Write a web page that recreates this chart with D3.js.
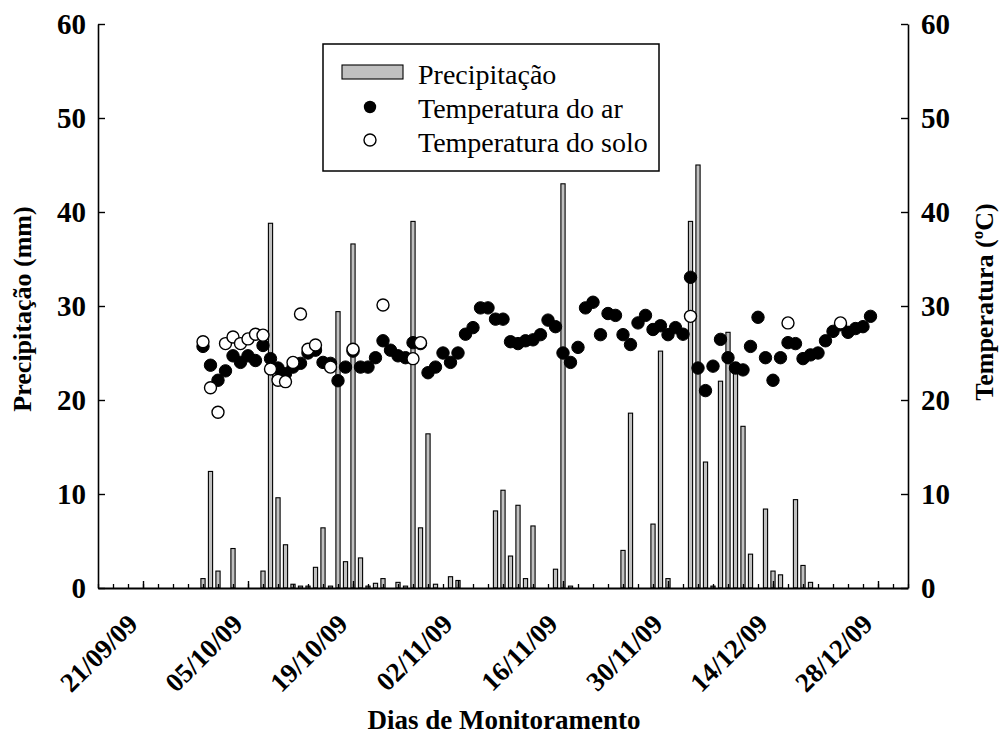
<!DOCTYPE html>
<html><head><meta charset="utf-8">
<script src="https://cdn.jsdelivr.net/npm/d3@7"></script>
<style>
body{margin:0;background:#fff}
svg text{font-family:"Liberation Serif","Times New Roman",serif}
</style>
</head><body>
<svg id="c" width="1002" height="745"></svg>
<script>
// ---------- data ----------
const xDomain = ["15/09/09", "01/01/10"];
const xTickLabels = ["21/09/09","05/10/09","19/10/09","02/11/09","16/11/09","30/11/09","14/12/09","28/12/09"];
const yTicks = [0, 10, 20, 30, 40, 50, 60];

const precipDates = ["29/09/09","30/09/09","01/10/09","03/10/09","07/10/09","08/10/09","09/10/09","10/10/09","11/10/09","12/10/09",
  "13/10/09","14/10/09","15/10/09","16/10/09","17/10/09","18/10/09","19/10/09","20/10/09","21/10/09","22/10/09",
  "23/10/09","25/10/09","26/10/09","27/10/09","28/10/09","29/10/09","30/10/09","01/11/09","02/11/09","07/11/09",
  "08/11/09","09/11/09","10/11/09","11/11/09","12/11/09","15/11/09","16/11/09","17/11/09","24/11/09","25/11/09",
  "28/11/09","29/11/09","30/11/09","03/12/09","04/12/09","05/12/09","06/12/09","07/12/09","08/12/09","09/12/09",
  "10/12/09","11/12/09","13/12/09","14/12/09","15/12/09","17/12/09","18/12/09","19/12/09"];
const precipValues = [1.0,12.4,1.8,4.2,1.8,38.8,9.6,4.6,0.4,0.2,
  0.2,2.2,6.4,0.2,29.4,2.8,36.6,3.2,0.2,0.5,
  1.0,0.6,0.2,39.0,6.4,16.4,0.4,1.2,0.8,8.2,
  10.4,3.4,8.8,1.0,6.6,2.0,43.0,0.2,4.0,18.6,
  6.8,25.2,1.0,39.0,45.0,13.4,0.2,22.0,27.2,24.0,
  17.2,3.6,8.4,1.8,1.4,9.4,2.4,0.6];

// air temperature, one value per day starting at tempStartDate
const tempStartDate = "29/09/09";
const airTemp = [25.7,23.7,22.1,23.1,24.7,24.0,24.7,24.2,25.8,24.4,
  23.4,22.8,23.5,23.9,25.0,25.3,24.0,23.9,22.05,23.5,
  25.2,23.5,23.5,24.5,26.3,25.3,24.7,24.5,26.1,26.0,
  22.9,23.5,25.0,24.0,25.0,27.0,27.7,29.8,29.8,28.6,
  28.6,26.2,26.0,26.3,26.4,26.95,28.5,27.8,25.0,24.0,
  25.6,29.8,30.4,26.95,29.2,29.0,26.95,25.9,28.2,29.0,
  27.5,27.9,26.95,27.7,27.0,33.05,23.4,21.0,23.6,26.45,
  24.5,23.4,23.2,25.7,28.8,24.5,22.1,24.5,26.1,26.0,
  24.4,24.8,25.0,26.3,27.3,28.0,27.2,27.6,27.8,28.9];

const soilDates = ["29/09/09","30/09/09","01/10/09","02/10/09","03/10/09","04/10/09","05/10/09","06/10/09","07/10/09","08/10/09",
  "09/10/09","10/10/09","11/10/09","12/10/09","13/10/09","14/10/09","16/10/09","19/10/09","23/10/09","27/10/09",
  "28/10/09","03/12/09","16/12/09","23/12/09"];
const soilTemp = [26.2,21.3,18.7,26.0,26.7,26.0,26.5,27.0,26.9,23.3,
  22.1,21.95,24.0,29.15,25.4,25.85,23.5,25.4,30.1,24.4,
  26.1,28.9,28.2,28.2];

const legendLabels = ["Precipitação", "Temperatura do ar", "Temperatura do solo"];

// ---------- chart ----------
const parse = d3.utcParse("%d/%m/%y");
const L = 98, R = 908, T = 24, B = 588;
const svg = d3.select("#c");
const font = '"Liberation Serif","Times New Roman",serif';

const x = d3.scaleUtc().domain(xDomain.map(parse)).range([L, R]);
const yP = d3.scaleLinear().domain([0, 60]).range([B, T]);
const yT = d3.scaleLinear().domain([0, 60]).range([B, T]);

const t0 = parse(tempStartDate);
const airData = airTemp.map((v, i) => ({date: d3.utcDay.offset(t0, i), v}));
const soilData = soilDates.map((d, i) => ({date: parse(d), v: soilTemp[i]}));
const precipData = precipDates.map((d, i) => ({date: parse(d), v: precipValues[i]}));

const dayW = x(d3.utcDay.offset(x.domain()[0], 1)) - x(x.domain()[0]);
const barW = dayW * 0.56;

// bars
svg.append("g").selectAll("rect").data(precipData).join("rect")
  .attr("x", d => x(d.date) - barW / 2)
  .attr("width", barW)
  .attr("y", d => yP(d.v))
  .attr("height", d => yP(0) - yP(d.v))
  .attr("fill", "#c0c0c0")
  .attr("stroke", "#000")
  .attr("stroke-width", 1.1);

// axes
const minorDays = d3.utcDay.range(x.domain()[0], d3.utcDay.offset(x.domain()[1], 1), 2);
const gxMinor = svg.append("g").attr("transform", `translate(0,${B})`)
  .call(d3.axisBottom(x).tickValues(minorDays).tickSize(-4).tickSizeOuter(0).tickFormat(""));
gxMinor.select(".domain").remove();
gxMinor.selectAll("line").attr("stroke-width", 1.3);

const gx = svg.append("g").attr("transform", `translate(0,${B})`)
  .call(d3.axisBottom(x).tickValues(xTickLabels.map(parse)).tickSize(-7).tickSizeOuter(0)
    .tickFormat(d3.utcFormat("%d/%m/%y")));
gx.select(".domain").attr("stroke-width", 2.2);
gx.selectAll("line").attr("stroke-width", 1.4);
gx.selectAll("text")
  .attr("x", 0).attr("y", 0).attr("dy", "0.35em")
  .attr("text-anchor", "end")
  .attr("transform", "translate(-11,31) rotate(-45)")
  .style("font-family", font).style("font-size", "27px").style("font-weight", "bold").attr("fill", "#000");

const gl = svg.append("g").attr("transform", `translate(${L},0)`)
  .call(d3.axisLeft(yP).tickValues(yTicks).tickSize(-7).tickSizeOuter(0).tickPadding(12));
gl.select(".domain").attr("stroke-width", 1.6);
gl.selectAll("line").attr("stroke-width", 1.4);
gl.selectAll("text").style("font-family", font).style("font-size", "29px").style("font-weight", "bold").attr("fill", "#000");

const gr = svg.append("g").attr("transform", `translate(${R},0)`)
  .call(d3.axisRight(yT).tickValues(yTicks).tickSize(-7).tickSizeOuter(0).tickPadding(13));
gr.select(".domain").attr("stroke-width", 1.6);
gr.selectAll("line").attr("stroke-width", 1.4);
gr.selectAll("text").style("font-family", font).style("font-size", "29px").style("font-weight", "bold").attr("fill", "#000");

// points
svg.append("g").selectAll("circle").data(airData).join("circle")
  .attr("cx", d => x(d.date)).attr("cy", d => yT(d.v)).attr("r", 6.2)
  .attr("fill", "#000").attr("stroke", "#000").attr("stroke-width", 1);
svg.append("g").selectAll("circle").data(soilData).join("circle")
  .attr("cx", d => x(d.date)).attr("cy", d => yT(d.v)).attr("r", 6)
  .attr("fill", "#fff").attr("stroke", "#000").attr("stroke-width", 1.4);

// titles
svg.append("text").attr("x", (L + R) / 2 + 1).attr("y", 720).attr("dy", "0.35em")
  .attr("text-anchor", "middle").style("font-size", "27px").style("font-weight", "bold")
  .text("Dias de Monitoramento");
svg.append("text").attr("transform", `translate(22,${(T + B) / 2 + 3}) rotate(-90)`).attr("dy", "0.35em")
  .attr("text-anchor", "middle").style("font-size", "26px").style("font-weight", "bold")
  .text("Precipitação (mm)");
svg.append("text").attr("transform", `translate(984,${(T + B) / 2 - 4}) rotate(-90)`).attr("dy", "0.35em")
  .attr("text-anchor", "middle").style("font-size", "26px").style("font-weight", "bold")
  .text("Temperatura (ºC)");

// legend
const lg = svg.append("g");
lg.append("rect").attr("x", 323).attr("y", 44).attr("width", 336).attr("height", 127)
  .attr("fill", "#fff").attr("stroke", "#000").attr("stroke-width", 1.5);
lg.append("rect").attr("x", 342).attr("y", 65).attr("width", 61).attr("height", 14)
  .attr("fill", "#c0c0c0").attr("stroke", "#000").attr("stroke-width", 1.1);
lg.append("circle").attr("cx", 370).attr("cy", 107).attr("r", 6.2).attr("fill", "#000");
lg.append("circle").attr("cx", 370).attr("cy", 140).attr("r", 6).attr("fill", "#fff")
  .attr("stroke", "#000").attr("stroke-width", 1.4);
lg.selectAll("text.lt").data(legendLabels).join("text").attr("class", "lt")
  .attr("x", 418).attr("y", (d, i) => 74 + i * 34).attr("dy", "0.35em")
  .style("font-size", "28px").text(d => d);
</script>
</body></html>
